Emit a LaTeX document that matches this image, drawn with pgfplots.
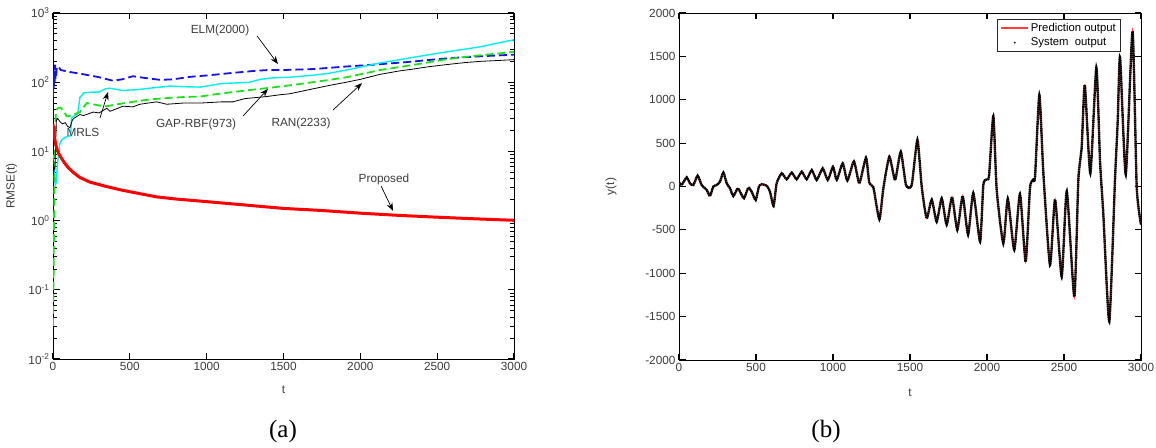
\documentclass[border=0pt]{standalone}
\usepackage{pgfplots}
\pgfplotsset{compat=1.18}
\usepackage{fontspec}
\setmainfont{Liberation Sans}
\newfontfamily\capfont{Liberation Serif}
\usetikzlibrary{arrows.meta}
\definecolor{tickc}{RGB}{60,60,60}
\definecolor{axc}{RGB}{40,40,40}
\definecolor{mgreen}{RGB}{30,225,30}
\definecolor{mcyan}{RGB}{0,240,240}
\definecolor{mblue}{RGB}{20,20,230}
\definecolor{pred}{RGB}{255,60,60}

\begin{document}
\begin{tikzpicture}
\useasboundingbox (0,0) rectangle (1156pt,447pt);
\pgfplotsset{
  every axis/.append style={
    font=\fontsize{11.8}{14}\selectfont,
    scale only axis,
    anchor=south west,
    tick label style={tickc},
    xlabel style={tickc},
    ylabel style={tickc},
    scaled ticks=false,
    xmin=0, xmax=3000,
    xtick={0,500,1000,1500,2000,2500,3000},
    xticklabels={0,500,1000,1500,2000,2500,3000},
  },
  every tick/.style={black, line width=1.1pt},
  every minor tick/.style={black, line width=0.9pt},
  major tick length=6.5pt,
  minor tick length=4pt,
  tick align=inside,
  tick pos=both,
}
% ---------------- (a) ----------------
\begin{axis}[
  at={(53pt,88pt)}, width=461pt, height=346pt,
  axis line style={line width=0.9pt},
  ymode=log, ymin=1e-2, ymax=1e3,
  ytick={1e-2,1e-1,1,10,100,1000},
  minor ytick={2e-2,3e-2,4e-2,5e-2,6e-2,7e-2,8e-2,9e-2,
               2e-1,3e-1,4e-1,5e-1,6e-1,7e-1,8e-1,9e-1,
               2,3,4,5,6,7,8,9,20,30,40,50,60,70,80,90,
               200,300,400,500,600,700,800,900},
  yticklabels={10\textsuperscript{-2},10\textsuperscript{-1},10\textsuperscript{0},10\textsuperscript{1},10\textsuperscript{2},10\textsuperscript{3}},
  xlabel={t}, ylabel={RMSE(t)},
  xlabel style={at={(axis description cs:0.5,-0.09)}, anchor=center},
  ylabel style={at={(axis description cs:-0.09,0.5)}, anchor=center},
]
% ELM (blue dashed)
\addplot[mblue, line width=1.8pt, dash pattern=on 8pt off 4pt] coordinates {
(0,60)(3,130)(5,80)(8,150)(11,95)(14,180)(17,110)(20,120)(25,165)(35,170)(50,150)(80,145)(130,138)(200,130)(300,118)(390,105)(450,110)(520,122)(600,115)(700,108)(780,110)(900,120)(1000,125)(1150,135)(1300,145)(1400,150)(1500,150)(1700,155)(1900,168)(2100,180)(2300,195)(2500,215)(2650,228)(2800,238)(3000,250)};
% MRLS (cyan)
\addplot[mcyan, line width=1.4pt] coordinates {
(0,9)(5,6)(10,4)(15,3.3)(20,3.5)(25,5)(35,9)(45,13)(60,15)(80,16)(100,16.5)(115,17)(120,30)(140,33)(160,34)(175,60)(200,70)(260,72)(300,72)(340,80)(370,82)(450,76)(550,78)(630,82)(700,85)(760,88)(850,86)(960,85)(1000,88)(1090,95)(1200,98)(1280,100)(1350,110)(1420,115)(1540,118)(1690,126)(1800,135)(1910,150)(2000,165)(2130,190)(2250,210)(2350,230)(2450,250)(2565,275)(2680,300)(2780,325)(2900,370)(3000,410)};
% GAP-RBF (green dashed)
\addplot[mgreen, line width=1.8pt, dash pattern=on 8pt off 4pt] coordinates {
(0,0.03)(3,0.1)(5,0.3)(7,1)(9,3)(12,10)(15,25)(20,38)(30,42)(50,43)(70,38)(90,32)(120,33)(175,37)(220,50)(260,48)(300,46)(350,45)(420,48)(520,52)(620,56)(740,59)(850,61)(955,62)(1060,67)(1170,72)(1280,77)(1390,82)(1540,90)(1690,100)(1800,108)(1910,118)(2000,130)(2130,150)(2250,165)(2345,178)(2450,195)(2565,215)(2680,232)(2780,245)(2900,260)(3000,275)};
% RAN (black)
\addplot[black, line width=0.8pt] coordinates {
(0,8)(5,5)(10,5.8)(13,6)(18,15)(22,28)(30,30)(45,27)(60,25)(80,26)(95,23)(110,22)(125,28)(135,30)(175,34)(200,33)(262,37)(300,36)(350,42)(371,38)(456,45)(520,44)(565,48)(675,52)(740,48)(850,50)(960,50)(1100,52)(1170,52)(1250,58)(1390,62)(1480,66)(1540,68)(1690,80)(1800,90)(1910,100)(2000,110)(2130,130)(2250,145)(2345,155)(2450,168)(2565,180)(2680,192)(2780,200)(2900,206)(3000,212)};
% Proposed (red)
\addplot[red, line width=3pt] coordinates {
(0,25)(5,19)(10,15.5)(20,12)(35,9.5)(50,8.3)(75,6.8)(100,5.8)(130,5.0)(175,4.2)(240,3.6)(350,3.1)(450,2.75)(565,2.45)(675,2.2)(800,2.05)(1000,1.88)(1250,1.68)(1500,1.5)(1750,1.4)(2000,1.28)(2250,1.19)(2500,1.12)(2750,1.06)(3000,1.01)};
% annotations
\tikzset{ann/.style={black, line width=0.7pt, -{Stealth[length=8pt,width=6pt]}}}
\node[tickc] at (axis cs:1087,568) {ELM(2000)};
\draw[ann] (axis cs:1328,466) -- (axis cs:1464,183);
\node[tickc] at (axis cs:195,19) {MRLS};
\draw[ann] (axis cs:306,30.4) -- (axis cs:358,72);
\node[tickc] at (axis cs:931,24.9) {GAP-RBF(973)};
\draw[ann] (axis cs:1237,32.5) -- (axis cs:1399,80);
\node[tickc] at (axis cs:1614,25.7) {RAN(2233)};
\draw[ann] (axis cs:1822,39.6) -- (axis cs:2011,97);
\node[tickc] at (axis cs:2154,3.99) {Proposed};
\draw[ann] (axis cs:2135,3.16) -- (axis cs:2213,1.38);
\end{axis}
% ---------------- (b) ----------------
\begin{axis}[
  at={(679pt,87pt)}, width=462pt, height=347pt,
  axis line style={line width=0.9pt},
  ymin=-2000, ymax=2000,
  ytick={-2000,-1500,-1000,-500,0,500,1000,1500,2000},
  yticklabels={-2000,-1500,-1000,-500,0,500,1000,1500,2000},
  xlabel={t}, ylabel={y(t)},
  xlabel style={at={(axis description cs:0.5,-0.093)}, anchor=center},
  ylabel style={at={(axis description cs:-0.147,0.5)}, anchor=center},
  legend style={at={(rel axis cs:0.957,0.983)}, anchor=north east, draw=axc, line width=0.8pt,
     font=\fontsize{11.3}{13}\selectfont, row sep=1pt, inner xsep=3pt, inner ysep=2pt},
  legend cell align=left,
]
\pgfplotstableread{
t v
0 50
17 17
50 106
71 36
93 17
121 125
147 17
180 -40
201 -110
223 0
245 17
266 56
288 160
310 36
331 -21
353 -110
381 -21
396 -60
422 -136
450 -13
472 -60
498 -156
520 6
537 25
569 10
591 -60
614 -225
634 36
667 152
699 83
732 160
764 83
797 171
829 83
862 190
894 75
933 209
966 75
1000 229
1024 75
1063 267
1093 67
1136 290
1171 37
1214 332
1236 37
1262 -9
1301 -379
1327 -20
1366 343
1403 75
1440 401
1474 17
1511 17
1548 536
1576 -2
1608 -367
1641 -150
1673 -406
1706 -137
1738 -441
1773 -122
1807 -500
1842 -110
1877 -555
1911 -75
1955 -637
1976 17
1995 80
2013 120
2041 810
2063 -40
2106 -656
2135 -140
2177 -733
2214 -85
2251 -868
2279 -20
2300 80
2312 114
2340 1055
2366 152
2409 -906
2442 -150
2485 -1040
2518 -55
2567 -1271
2593 75
2615 459
2635 1170
2671 152
2710 1370
2734 290
2755 -310
2794 -1555
2831 75
2849 766
2864 1492
2901 140
2945 1790
2972 -2
3000 -440
}\sysdata
\addplot[pred, line width=1.3pt, smooth, tension=0.35,
  legend image code/.code={\draw[pred, line width=1.3pt, solid] (0cm,0cm) -- (0.95cm,0cm);}]
  table[x=t,y=v] {\sysdata};
\addlegendentry{Prediction output}
\addplot[black, line width=2.4pt, smooth, tension=0.35, dash pattern=on 1.6pt off 0.5pt,
  legend image code/.code={\fill[black, solid, draw=none] (0.475cm,0cm) circle (1pt);}]
  table[x=t,y=v] {\sysdata};
\addlegendentry{System\ \ output}
\end{axis}
% captions
\node[font=\capfont\fontsize{25}{28}\selectfont, anchor=base] at (283pt,10pt) {(a)};
\node[font=\capfont\fontsize{25}{28}\selectfont, anchor=base] at (826pt,10pt) {(b)};
\end{tikzpicture}
\end{document}
